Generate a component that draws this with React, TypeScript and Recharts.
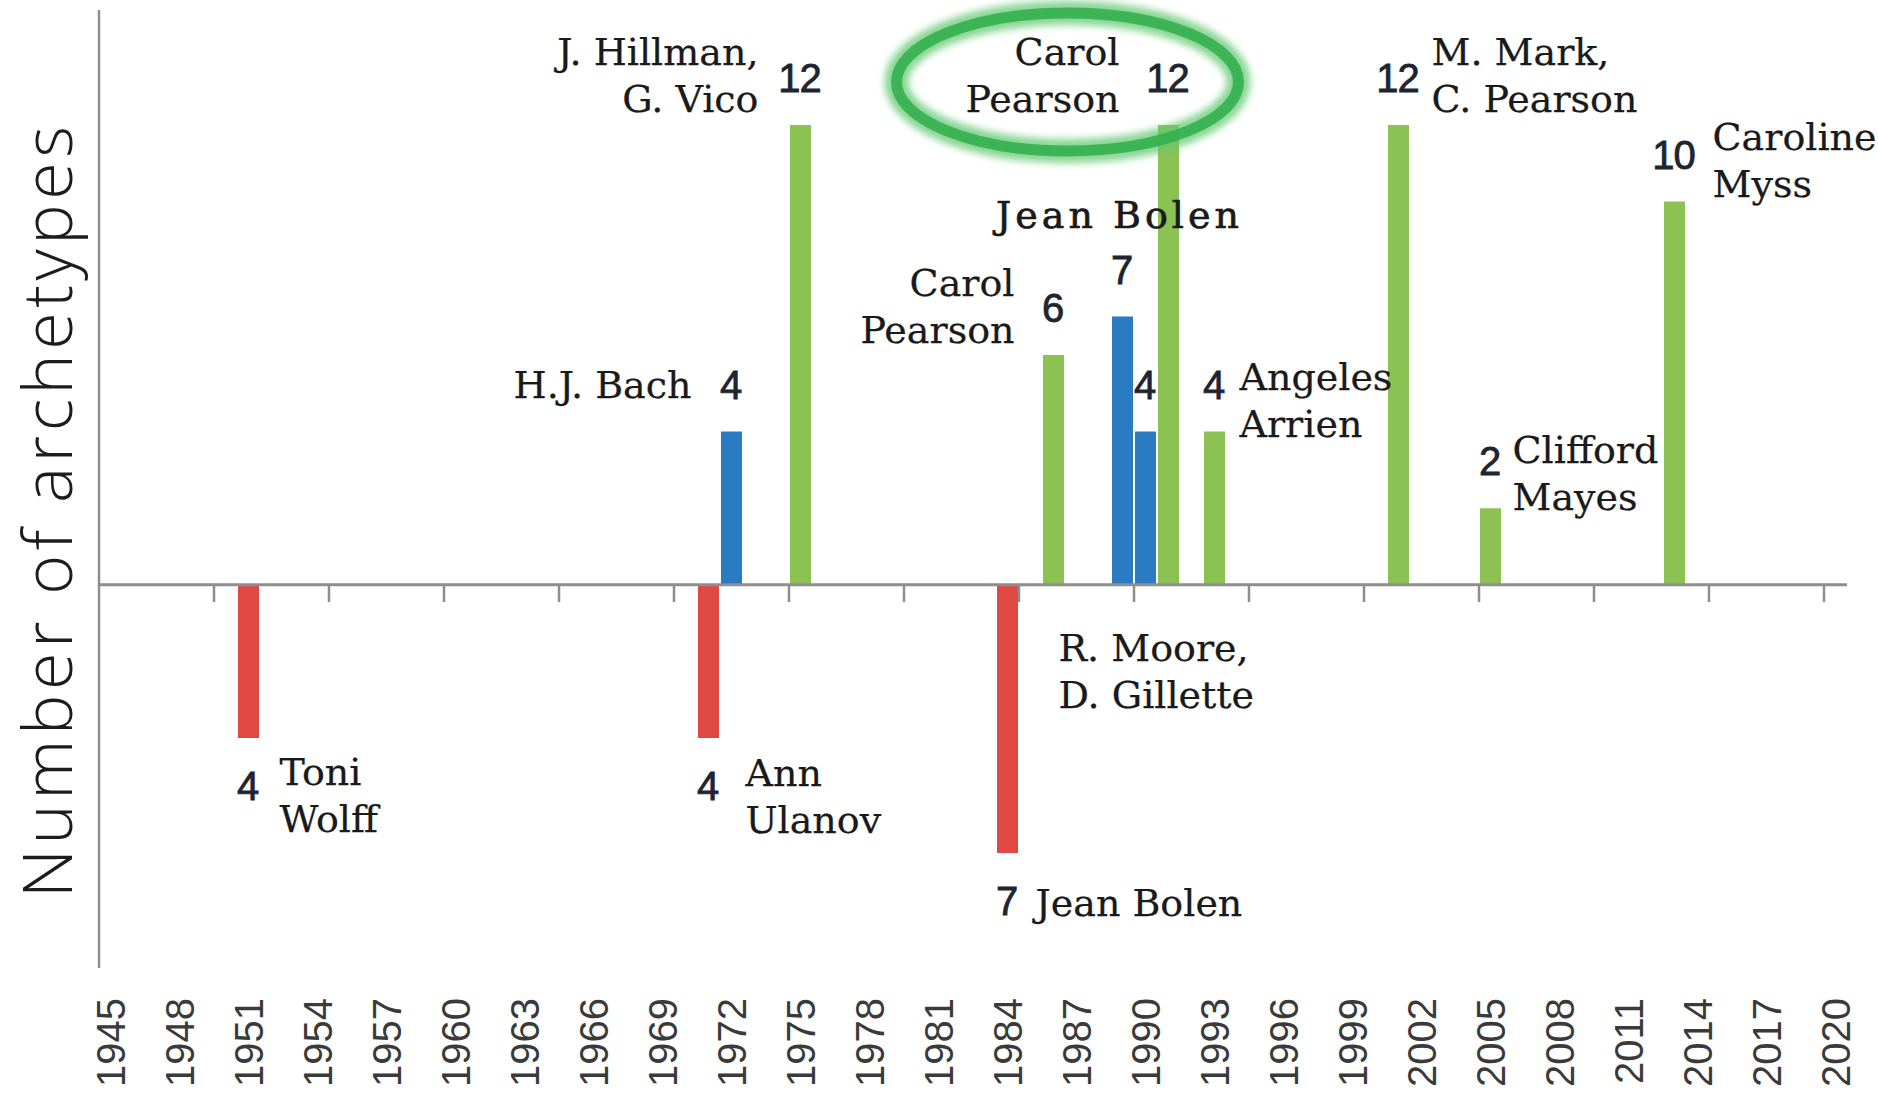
import React from "react"
import { BarChart, Bar, Cell, XAxis, YAxis, ReferenceLine, LabelList } from "recharts"

// one bar per publication: year, signed number of archetypes, colour group, author(s)
const years = [1951, 1971, 1972, 1975, 1984, 1986, 1989, 1990, 1991, 1993, 2001, 2005, 2013]
const archetypeCounts = [-4, -4, 4, 12, -7, 6, 7, 4, 12, 4, 12, 2, 10]
const groups = ["red", "red", "blue", "green", "red", "green", "blue", "blue", "green", "green", "green", "green", "green"]
const authors = [
  ["Toni", "Wolff"],
  ["Ann", "Ulanov"],
  ["H.J. Bach"],
  ["J. Hillman,", "G. Vico"],
  ["Jean Bolen"],
  ["Carol", "Pearson"],
  ["Jean Bolen"],
  ["R. Moore,", "D. Gillette"],
  ["Carol", "Pearson"],
  ["Angeles", "Arrien"],
  ["M. Mark,", "C. Pearson"],
  ["Clifford", "Mayes"],
  ["Caroline", "Myss"],
]

const yearLabels = [
  1945, 1948, 1951, 1954, 1957, 1960, 1963, 1966, 1969, 1972, 1975, 1978, 1981,
  1984, 1987, 1990, 1993, 1996, 1999, 2002, 2005, 2008, 2011, 2014, 2017, 2020,
]
// small tick marks on the zero line, between category slots every 5 years
const tickMarks = [1949.5, 1954.5, 1959.5, 1964.5, 1969.5, 1974.5, 1979.5, 1984.5, 1989.5, 1994.5, 1999.5, 2004.5, 2009.5, 2014.5, 2019.5]

const groupColors: Record<string, string> = { red: "#df4843", blue: "#2a7bc2", green: "#8cc153" }

// where each author caption sits relative to its bar (px from bar centre / bar end)
type Side = "left" | "right" | "center"
const nameLayout: { side: Side; dx: number; dy: number; bold?: boolean; ring?: boolean }[] = [
  { side: "right", dx: 31, dy: 47 },
  { side: "right", dx: 37, dy: 48 },
  { side: "left", dx: -40, dy: -34 },
  { side: "left", dx: -42, dy: -60 },
  { side: "right", dx: 28, dy: 63 },
  { side: "left", dx: -39, dy: -59 },
  { side: "center", dx: -3, dy: -89, bold: true },
  { side: "right", dx: -87, dy: 229 },
  { side: "left", dx: -49, dy: -60, ring: true },
  { side: "right", dx: 25, dy: -42 },
  { side: "right", dx: 33, dy: -60 },
  { side: "right", dx: 22, dy: -45 },
  { side: "right", dx: 38, dy: -52 },
]

const data = years.map((year, i) => ({ id: i, year, count: archetypeCounts[i], group: groups[i] }))

const SERIF = "'DejaVu Serif', Georgia, serif"
const SANS = "'Liberation Sans', Arial, sans-serif"
const AXIS_GRAY = "#8e8e8e"

function barBox(p: any) {
  const x = Number(p.x), y = Number(p.y), w = Number(p.width), h = Number(p.height)
  return { cx: x + w / 2, top: Math.min(y, y + h), bottom: Math.max(y, y + h) }
}

function CountLabel(props: any) {
  const i = Number(props.value)
  const v = archetypeCounts[i]
  const { cx, top, bottom } = barBox(props)
  const baseline = v < 0 ? bottom + 62 : top - 33
  return (
    <text
      x={cx - 1}
      y={baseline}
      textAnchor="middle"
      fontFamily={SANS}
      fontSize={40}
      fill="#1e2430"
      stroke="#1e2430"
      strokeWidth={0.8}
      letterSpacing={-1}
    >
      {Math.abs(v)}
    </text>
  )
}

function NameLabel(props: any) {
  const i = Number(props.value)
  const spec = nameLayout[i]
  const { cx, top, bottom } = barBox(props)
  const end = archetypeCounts[i] < 0 ? bottom : top
  const anchor = spec.side === "left" ? "end" : spec.side === "center" ? "middle" : "start"
  const x = cx + spec.dx
  const y = end + spec.dy
  return (
    <g>
      {spec.ring && (
        <g>
          <defs>
            <filter id="ringBlur" x="-20%" y="-40%" width="140%" height="180%">
              <feGaussianBlur stdDeviation="3.5" />
            </filter>
          </defs>
          <ellipse cx={cx - 101} cy={top - 43} rx={171} ry={69} fill="none" stroke="#62c872" strokeWidth={24} opacity={0.75} filter="url(#ringBlur)" />
          <ellipse cx={cx - 101} cy={top - 43} rx={171} ry={69} fill="none" stroke="#2fae4a" strokeWidth={11} opacity={0.85} />
        </g>
      )}
      <text
        x={x}
        y={y}
        textAnchor={anchor}
        fontFamily={SERIF}
        fontSize={38}
        fill="#1a1a1a"
        letterSpacing={spec.bold ? 4 : 0}
        stroke="#1a1a1a"
        strokeWidth={spec.bold ? 0.7 : 0.25}
      >
        {authors[i].map((line, k) => (
          <tspan key={k} x={x} dy={k === 0 ? 0 : 47}>
            {line}
          </tspan>
        ))}
      </text>
    </g>
  )
}

function YearTick(props: any) {
  const { x, y, payload } = props
  return (
    <text
      x={x}
      y={y}
      transform={`rotate(-90 ${x} ${y})`}
      textAnchor="end"
      dy="0.36em"
      fontFamily={SANS}
      fontSize={40}
      fill="#3a3a3a"
    >
      {payload.value}
    </text>
  )
}

function AxisTitle(props: any) {
  const vb = props.viewBox || { x: 0, y: 10, width: 99, height: 958 }
  const x = vb.x + 72
  const y = vb.y + vb.height / 2 + 23
  return (
    <text
      x={x}
      y={y}
      transform={`rotate(-90 ${x} ${y})`}
      textAnchor="middle"
      fontFamily="'Open Sans', 'DejaVu Sans', sans-serif"
      fontWeight={300}
      fontSize={68}
      textLength={772}
      lengthAdjust="spacing"
      fill="#1c1c1c"
    >
      Number of archetypes
    </text>
  )
}

export default function App() {
  return (
    <div style={{ position: "absolute", left: 0, top: 0, width: 1878, height: 1098, background: "#fff" }}>
      <BarChart width={1878} height={1098} data={data} margin={{ top: 10, right: 31, bottom: 0, left: 0 }}>
        <XAxis
          type="number"
          dataKey="year"
          domain={[1944.5, 2020.5]}
          ticks={yearLabels}
          interval={0}
          tick={<YearTick />}
          tickLine={false}
          axisLine={false}
          tickSize={0}
          tickMargin={30}
          height={130}
        />
        <YAxis
          type="number"
          domain={[-10, 15]}
          width={99}
          tick={false}
          tickLine={false}
          axisLine={{ stroke: AXIS_GRAY, strokeWidth: 2.5 }}
          label={<AxisTitle />}
        />
        <Bar dataKey="count" barSize={21} isAnimationActive={false}>
          {data.map((d) => (
            <Cell key={d.id} fill={groupColors[d.group]} />
          ))}
          <LabelList dataKey="id" content={<CountLabel />} />
          <LabelList dataKey="id" content={<NameLabel />} />
        </Bar>
        <ReferenceLine y={0} stroke={AXIS_GRAY} strokeWidth={3} />
        {tickMarks.map((t) => (
          <ReferenceLine
            key={t}
            segment={[{ x: t, y: 0 }, { x: t, y: -0.45 }]}
            stroke={AXIS_GRAY}
            strokeWidth={2.5}
          />
        ))}
      </BarChart>
    </div>
  )
}
